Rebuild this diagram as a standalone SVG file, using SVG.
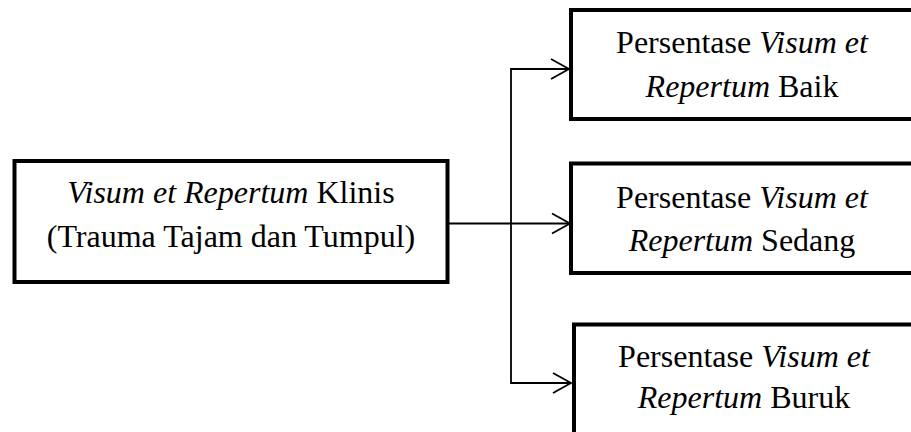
<svg xmlns="http://www.w3.org/2000/svg" width="911" height="432" viewBox="0 0 911 432">
  <style>
    .box { fill: #ffffff; stroke: #000000; stroke-width: 4; }
    .lbl { font-family: "Liberation Serif", "Times New Roman", serif; font-size: 32px; fill: #000000; text-anchor: middle; }
    .it { font-style: italic; }
    .wire { fill: none; stroke: #000000; stroke-width: 1.8; }
  </style>
  <defs>
    <marker id="open-arrow" markerUnits="userSpaceOnUse" markerWidth="24" markerHeight="24" refX="19" refY="11" orient="auto">
      <path d="M1,1 L19,11 L1,21" fill="none" stroke="#000000" stroke-width="1.8"/>
    </marker>
  </defs>

  <rect width="911" height="432" fill="#ffffff"/>

  <!-- connectors -->
  <g id="connectors">
    <path class="wire" d="M447,223.5 H570" marker-end="url(#open-arrow)"/>
    <path class="wire" d="M511,223.5 V69 H569" marker-end="url(#open-arrow)"/>
    <path class="wire" d="M511,223.5 V383 H571" marker-end="url(#open-arrow)"/>
  </g>

  <!-- source node -->
  <g id="node-klinis">
    <rect class="box" x="14.5" y="161" width="433" height="121"/>
    <text class="lbl" x="231" y="203"><tspan class="it">Visum et Repertum</tspan> Klinis</text>
    <text class="lbl" x="231" y="247">(Trauma Tajam dan Tumpul)</text>
  </g>

  <!-- result nodes -->
  <g id="node-baik">
    <rect class="box" x="571" y="10" width="360" height="109"/>
    <text class="lbl" x="742" y="53">Persentase <tspan class="it">Visum et</tspan></text>
    <text class="lbl" x="742" y="97"><tspan class="it">Repertum</tspan> Baik</text>
  </g>

  <g id="node-sedang">
    <rect class="box" x="571" y="163.5" width="360" height="109.5"/>
    <text class="lbl" x="742" y="208">Persentase <tspan class="it">Visum et</tspan></text>
    <text class="lbl" x="742" y="251"><tspan class="it">Repertum</tspan> Sedang</text>
  </g>

  <g id="node-buruk">
    <rect class="box" x="574" y="324.5" width="360" height="130"/>
    <text class="lbl" x="744" y="367">Persentase <tspan class="it">Visum et</tspan></text>
    <text class="lbl" x="744" y="408"><tspan class="it">Repertum</tspan> Buruk</text>
  </g>
</svg>
